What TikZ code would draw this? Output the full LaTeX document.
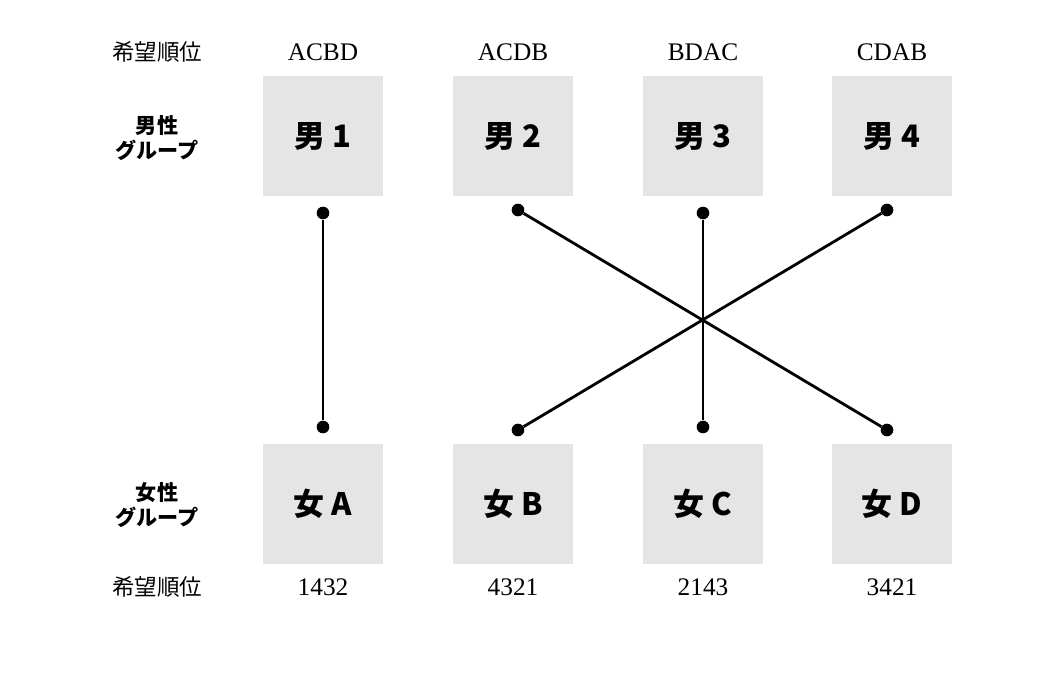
\documentclass[tikz,border=0pt]{standalone}
\usepackage{fontspec}
\newfontfamily\jp{Noto Sans CJK JP}
\setmainfont{Liberation Serif}
\begin{document}
\begin{tikzpicture}[x=0.025cm,y=-0.025cm]
\tikzstyle{person}=[fill=black!10,minimum size=2.975cm,inner sep=0pt,font=\jp\bfseries\fontsize{22}{26}\selectfont]
\tikzstyle{pref}=[font=\fontsize{18}{22}\selectfont]
\tikzstyle{group}=[font=\jp\bfseries\fontsize{15}{18}\selectfont,align=center]
\tikzstyle{dot}=[circle,fill=black,inner sep=0pt,minimum size=9pt]
\tikzstyle{link}=[line width=2pt]
\useasboundingbox (0,0) rectangle (1040,685);

\node[pref,font=\jp\fontsize{16}{20}\selectfont] (prefM) at (157,52) {希望順位};
\node[group] (groupM) at (157,138) {男性\\グループ};
\node[group] (groupW) at (157,505) {女性\\グループ};
\node[pref,font=\jp\fontsize{16}{20}\selectfont] (prefW) at (157,587) {希望順位};

\node[person] (m1) at (323,136) {男 1};
\node[person] (m2) at (513,136) {男 2};
\node[person] (m3) at (703,136) {男 3};
\node[person] (m4) at (892,136) {男 4};
\node[person] (wA) at (323,504) {女 A};
\node[person] (wB) at (513,504) {女 B};
\node[person] (wC) at (703,504) {女 C};
\node[person] (wD) at (892,504) {女 D};

\node[pref] (p1) at (323,52) {ACBD};
\node[pref] (p2) at (513,52) {ACDB};
\node[pref] (p3) at (703,52) {BDAC};
\node[pref] (p4) at (892,52) {CDAB};
\node[pref] (qA) at (323,587) {1432};
\node[pref] (qB) at (513,587) {4321};
\node[pref] (qC) at (703,587) {2143};
\node[pref] (qD) at (892,587) {3421};

\node[dot] (d1) at (323,213) {};
\node[dot] (d2) at (518,210) {};
\node[dot] (d3) at (703,213) {};
\node[dot] (d4) at (887,210) {};
\node[dot] (dA) at (323,427) {};
\node[dot] (dB) at (518,430) {};
\node[dot] (dC) at (703,427) {};
\node[dot] (dD) at (887,430) {};

\draw[link] (d1) -- (dA);
\draw[link] (d2) -- (dD);
\draw[link] (d3) -- (dC);
\draw[link] (d4) -- (dB);
\end{tikzpicture}
\end{document}
